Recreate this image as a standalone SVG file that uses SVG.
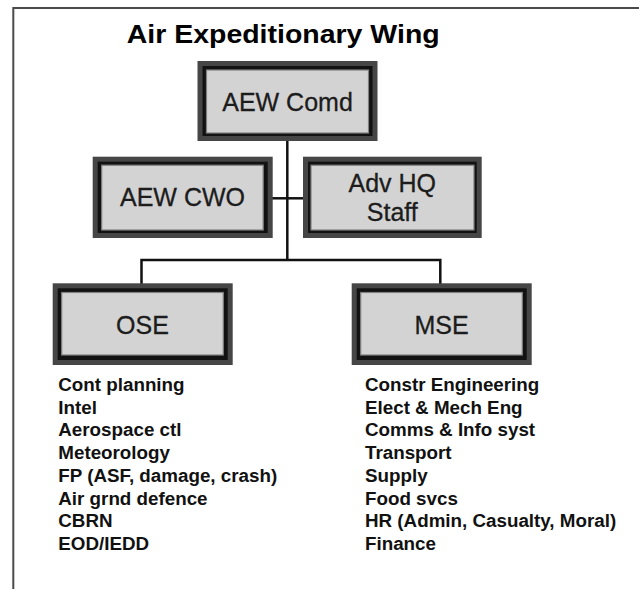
<svg xmlns="http://www.w3.org/2000/svg" width="639" height="589" viewBox="0 0 639 589">
<defs>
<style>
.frame{fill:none;stroke:#4a4a4a;stroke-width:2}
.b1{fill:#464646}
.b2{fill:#121212}
.b3{fill:#d3d3d3;stroke:#808080;stroke-width:1.2}
.bt{font-family:"Liberation Sans",Arial,sans-serif;font-size:25px;fill:#1c1c1c;stroke:#1c1c1c;stroke-width:0.3;text-anchor:middle}
.title{font-family:"Liberation Sans",Arial,sans-serif;font-size:26px;font-weight:bold;fill:#000}
.li{font-family:"Liberation Sans",Arial,sans-serif;font-size:18.8px;font-weight:bold;fill:#111}
.conn{fill:none;stroke:#111;stroke-width:2.5}
</style>
</defs>
<rect width="639" height="589" fill="#fff"/>
<path class="frame" d="M13.3,589 V8 H639"/>
<text class="title" x="126.7" y="43.3" textLength="313" lengthAdjust="spacingAndGlyphs">Air Expeditionary Wing</text>
<g id="connectors">
<path class="conn" d="M287.3,140 V260"/>
<path class="conn" d="M272,198.3 H304"/>
<path class="conn" d="M141.5,284 V260 H440.3 V284"/>
</g>
<g id="aew-comd">
<rect class="b1" x="197.5" y="61" width="180" height="80"/>
<rect class="b2" x="202.5" y="66" width="170" height="70"/>
<rect class="b3" x="206.5" y="70" width="162" height="63"/>
<text class="bt" x="287.5" y="111">AEW Comd</text>
</g>
<g id="aew-cwo">
<rect class="b1" x="92.7" y="156.7" width="180" height="81.3"/>
<rect class="b2" x="97.7" y="161.7" width="170" height="71.3"/>
<rect class="b3" x="101.7" y="165.2" width="161.5" height="64.8"/>
<text class="bt" x="182.5" y="205.7">AEW CWO</text>
</g>
<g id="adv-hq-staff">
<rect class="b1" x="303" y="156.7" width="178.7" height="81.3"/>
<rect class="b2" x="308" y="161.7" width="168.7" height="71.3"/>
<rect class="b3" x="311" y="165.2" width="163" height="64.8"/>
<text class="bt" x="392.3" y="191.7">Adv HQ</text>
<text class="bt" x="392.3" y="221">Staff</text>
</g>
<g id="ose">
<rect class="b1" x="52.7" y="283.3" width="180" height="81.7"/>
<rect class="b2" x="57.7" y="288.3" width="170" height="71.7"/>
<rect class="b3" x="61.7" y="292.5" width="161.6" height="62.5"/>
<text class="bt" x="142.5" y="334">OSE</text>
</g>
<g id="mse">
<rect class="b1" x="351.7" y="283.3" width="180" height="81.7"/>
<rect class="b2" x="356.7" y="288.3" width="170" height="71.7"/>
<rect class="b3" x="360.7" y="292.5" width="161.6" height="62.5"/>
<text class="bt" x="441.5" y="334">MSE</text>
</g>
<g id="ose-list">
<text class="li" x="58.3" y="390.7">Cont planning</text>
<text class="li" x="58.3" y="413.5">Intel</text>
<text class="li" x="58.3" y="436.2">Aerospace ctl</text>
<text class="li" x="58.3" y="459">Meteorology</text>
<text class="li" x="58.3" y="481.7">FP (ASF, damage, crash)</text>
<text class="li" x="58.3" y="504.5">Air grnd defence</text>
<text class="li" x="58.3" y="527.3">CBRN</text>
<text class="li" x="58.3" y="550">EOD/IEDD</text>
</g>
<g id="mse-list">
<text class="li" x="365" y="390.7">Constr Engineering</text>
<text class="li" x="365" y="413.5">Elect &amp; Mech Eng</text>
<text class="li" x="365" y="436.2">Comms &amp; Info syst</text>
<text class="li" x="365" y="459">Transport</text>
<text class="li" x="365" y="481.7">Supply</text>
<text class="li" x="365" y="504.5">Food svcs</text>
<text class="li" x="365" y="527.3">HR (Admin, Casualty, Moral)</text>
<text class="li" x="365" y="550">Finance</text>
</g>
</svg>
